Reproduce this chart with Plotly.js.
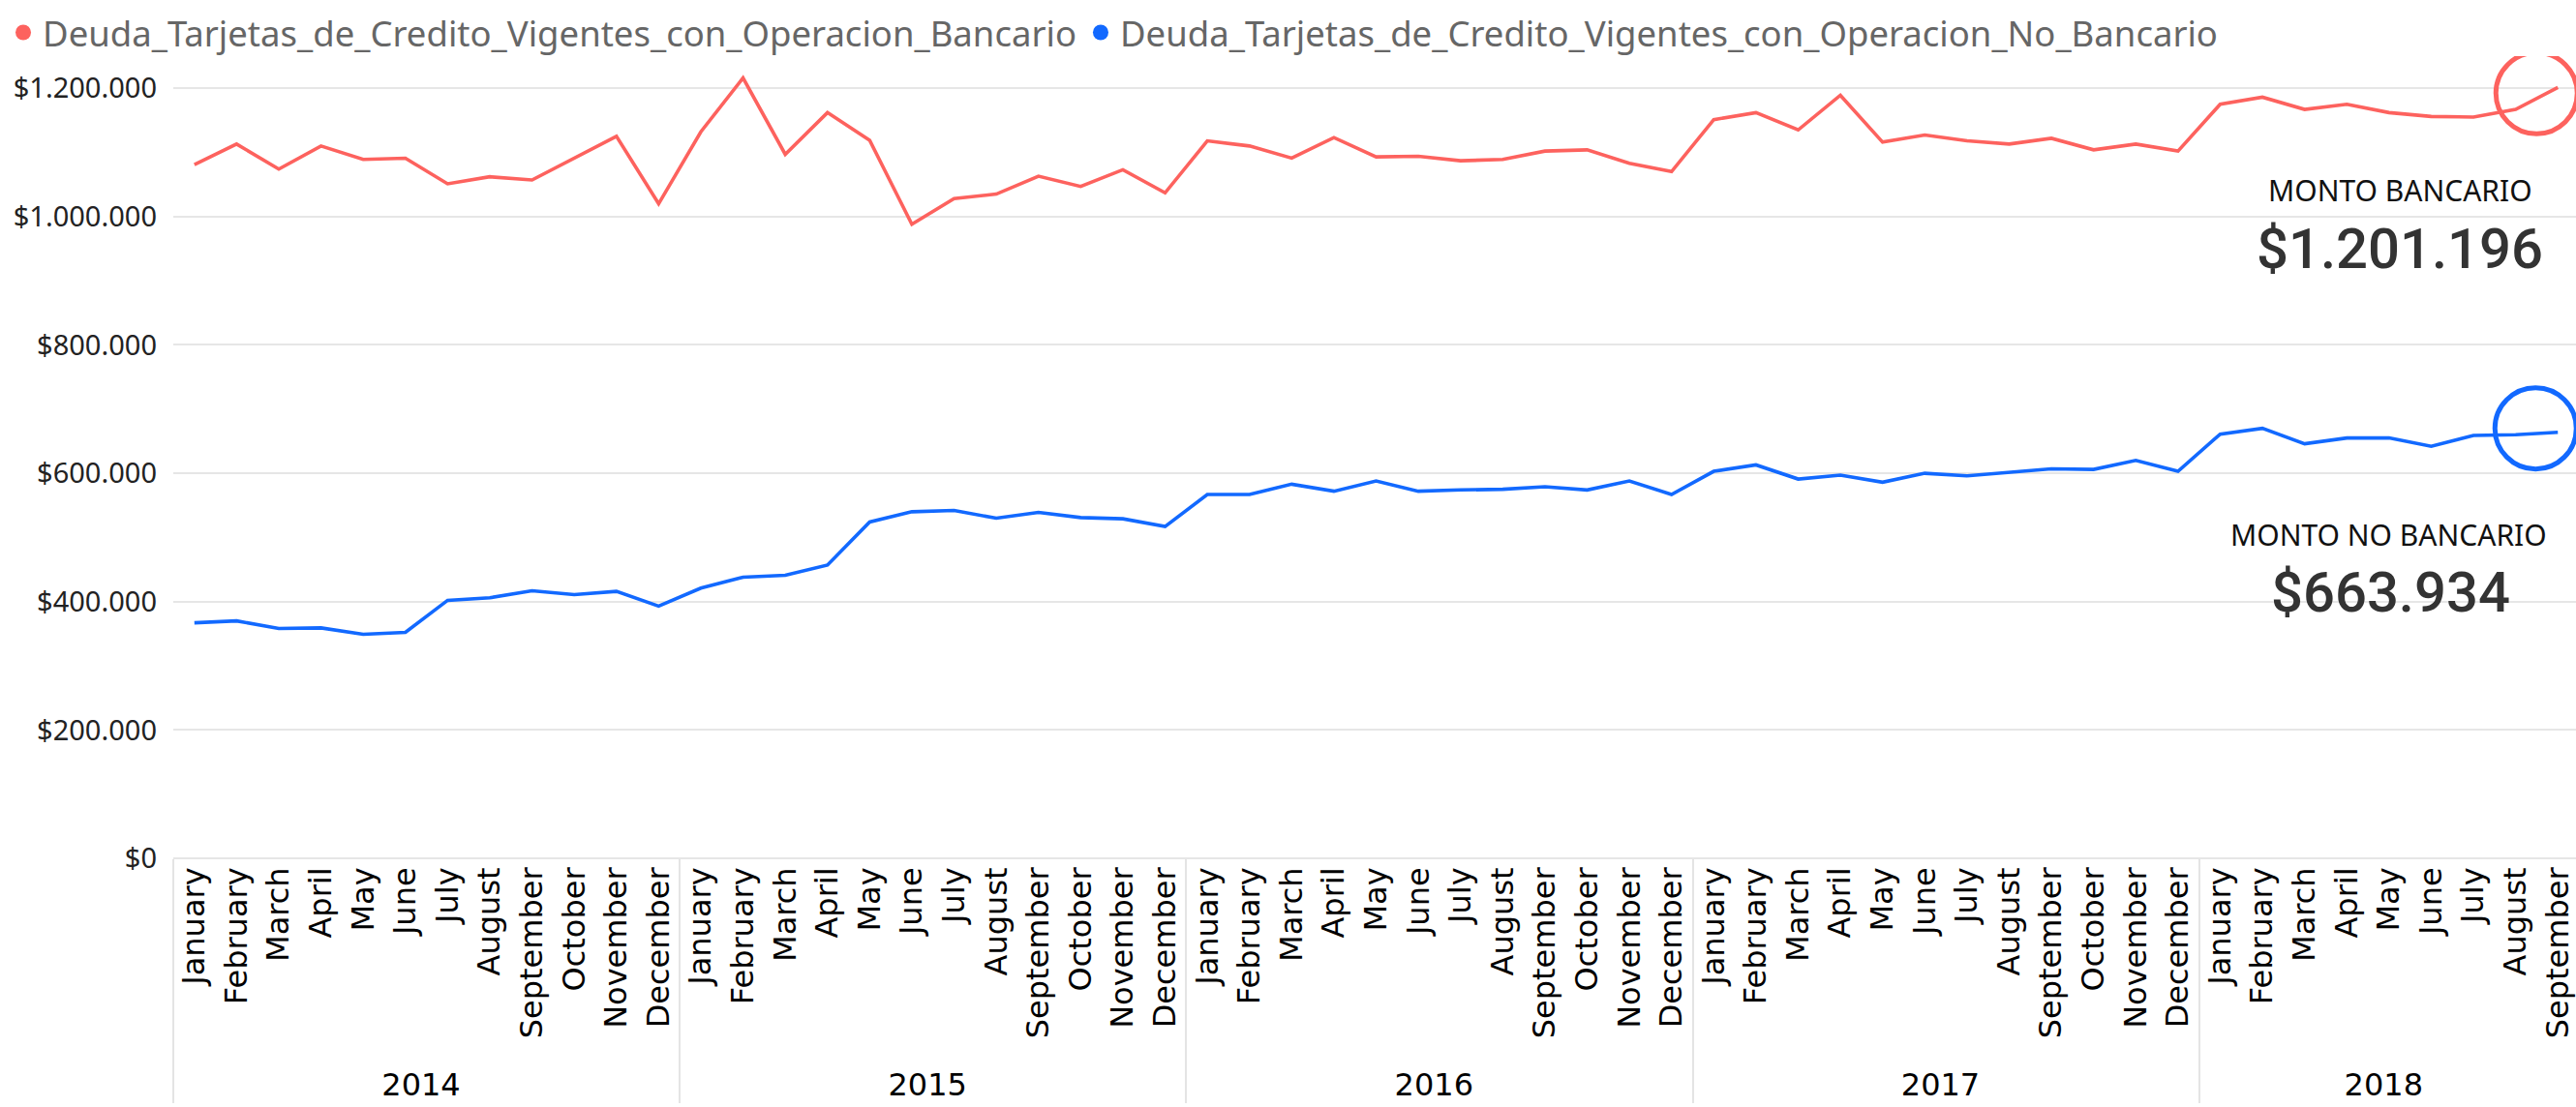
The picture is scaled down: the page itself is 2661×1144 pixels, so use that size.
<!DOCTYPE html>
<html>
<head>
<meta charset="utf-8">
<script src="https://cdn.plot.ly/plotly-3.0.1.min.js"></script>
<style>html,body{margin:0;padding:0;background:#fff;overflow:hidden}</style>
</head>
<body>
<div id="chart" style="width:2661px;height:1144px"></div>
<script>
// ---- data ----
const years = ['2014', '2015', '2016', '2017', '2018'];
const monthNames = ['January', 'February', 'March', 'April', 'May', 'June', 'July',
  'August', 'September', 'October', 'November', 'December'];

const seriesNames = [
  'Deuda_Tarjetas_de_Credito_Vigentes_con_Operacion_Bancario',
  'Deuda_Tarjetas_de_Credito_Vigentes_con_Operacion_No_Bancario'
];

const bancario = [
  1081000, 1113000, 1074000, 1110000, 1089000, 1091000, 1051000, 1062000, 1057000, 1091000, 1125000, 1020000,
  1132000, 1216000, 1097000, 1162000, 1119000, 988000, 1028000, 1035000, 1063000, 1047000, 1073000, 1037000,
  1118000, 1110000, 1091000, 1123000, 1093000, 1094000, 1087000, 1089000, 1102000, 1104000, 1083000, 1070000,
  1151000, 1162000, 1135000, 1189000, 1116000, 1127000, 1118000, 1113000, 1122000, 1104000, 1113000, 1102000,
  1175000, 1186000, 1167000, 1175000, 1162000, 1156000, 1155000, 1167000, 1201196
];

const noBancario = [
  367000, 370000, 358000, 359000, 349000, 352000, 402000, 406000, 417000, 411000, 416000, 393000,
  421000, 438000, 441000, 457000, 524000, 540000, 542000, 530000, 539000, 531000, 529000, 517000,
  567000, 567000, 583000, 572000, 588000, 572000, 574000, 575000, 579000, 574000, 588000, 567000,
  603000, 613000, 591000, 597000, 586000, 600000, 596000, 601000, 607000, 606000, 620000, 603000,
  661000, 670000, 646000, 655000, 655000, 642000, 659000, 660000, 663934
];

const yTicks = [0, 200000, 400000, 600000, 800000, 1000000, 1200000];
const cardLabels = ['MONTO BANCARIO', 'MONTO NO BANCARIO'];

// ---- styles ----
const RED = '#FD625E';
const BLUE = '#1269FF';

// category arrays built from years / months
const xYears = [], xMonths = [];
for (let i = 0; i < bancario.length; i++) {
  xYears.push(years[Math.floor(i / 12)]);
  xMonths.push(monthNames[i % 12]);
}

function fmt(v) {
  return '$' + String(Math.round(v)).replace(/\B(?=(\d{3})+(?!\d))/g, '.');
}

const xRange = [-0.5, 56.43];
const lastIdx = bancario.length - 1;
const lastPaperX = (lastIdx - xRange[0]) / (xRange[1] - xRange[0]);

const traces = [
  {
    x: [xYears, xMonths], y: bancario, type: 'scatter', mode: 'lines',
    line: {color: RED, width: 3.6}, name: seriesNames[0], showlegend: false, hoverinfo: 'skip'
  },
  {
    x: [xYears, xMonths], y: noBancario, type: 'scatter', mode: 'lines',
    line: {color: BLUE, width: 3.6}, name: seriesNames[1], showlegend: false, hoverinfo: 'skip'
  },
  {
    x: [null], y: [null], type: 'scatter', mode: 'markers', xaxis: 'x2', yaxis: 'y2',
    marker: {color: RED, size: 20, symbol: 'circle'}, name: seriesNames[0], showlegend: true
  },
  {
    x: [null], y: [null], type: 'scatter', mode: 'markers', xaxis: 'x2', yaxis: 'y2',
    marker: {color: BLUE, size: 20, symbol: 'circle'}, name: seriesNames[1], showlegend: true
  }
];

const layout = {
  width: 2661, height: 1144,
  margin: {l: 179, r: 0, t: 58, b: 257, pad: 0},
  paper_bgcolor: '#fff', plot_bgcolor: '#fff',
  separators: ',.',
  showlegend: true,
  legend: {
    orientation: 'h', x: -0.0705, xanchor: 'left', y: 1.066, yanchor: 'top',
    font: {family: 'Noto Sans', size: 36.5, color: '#666'},
    bgcolor: 'rgba(0,0,0,0)', borderwidth: 0
  },
  xaxis: {
    type: 'multicategory', range: xRange,
    tickangle: -90,
    tickfont: {family: 'DejaVu Sans', size: 32, color: '#000'},
    showgrid: false, zeroline: false, showline: false, ticks: '',
    showdividers: true, dividercolor: '#e4e4e4', dividerwidth: 2,
    ticklabelstandoff: 2,
    fixedrange: true
  },
  yaxis: {
    range: [0, 1250000], tickmode: 'array', tickvals: yTicks, ticktext: yTicks.map(fmt),
    tickfont: {family: 'Noto Sans', size: 29, color: '#222'},
    gridcolor: '#e6e6e6', gridwidth: 2,
    zeroline: true, zerolinecolor: '#e6e6e6', zerolinewidth: 2,
    showline: false, ticks: '', ticklabelstandoff: 16, fixedrange: true
  },
  xaxis2: {overlaying: 'x', visible: false, range: [0, 1]},
  yaxis2: {overlaying: 'y', visible: false, range: [0, 1]},
  shapes: [
    {
      type: 'circle', xref: 'paper', yref: 'y', xsizemode: 'pixel', ysizemode: 'pixel',
      xanchor: lastPaperX, yanchor: bancario[lastIdx],
      x0: -64, x1: 20, y0: -48, y1: 36,
      line: {color: RED, width: 5}, layer: 'above'
    },
    {
      type: 'circle', xref: 'paper', yref: 'y', xsizemode: 'pixel', ysizemode: 'pixel',
      xanchor: lastPaperX, yanchor: noBancario[lastIdx],
      x0: -65, x1: 19, y0: -38, y1: 46,
      line: {color: BLUE, width: 5}, layer: 'above'
    }
  ],
  annotations: [
    {
      text: cardLabels[0], xref: 'paper', yref: 'paper', x: 0.9267, y: 0.8335,
      xanchor: 'center', yanchor: 'middle', showarrow: false,
      font: {family: 'Noto Sans', size: 30, color: '#111'}
    },
    {
      text: fmt(bancario[lastIdx]), xref: 'paper', yref: 'paper', x: 0.9267, y: 0.760,
      xanchor: 'center', yanchor: 'middle', showarrow: false,
      font: {family: 'Roboto', size: 58, color: '#333', weight: 500}
    },
    {
      text: cardLabels[1], xref: 'paper', yref: 'paper', x: 0.9222, y: 0.4041,
      xanchor: 'center', yanchor: 'middle', showarrow: false,
      font: {family: 'Noto Sans', size: 30, color: '#111'}
    },
    {
      text: fmt(noBancario[lastIdx]), xref: 'paper', yref: 'paper', x: 0.9230, y: 0.3317,
      xanchor: 'center', yanchor: 'middle', showarrow: false,
      font: {family: 'Roboto', size: 58, color: '#333', weight: 500}
    }
  ]
};

Plotly.newPlot('chart', traces, layout, {displayModeBar: false, staticPlot: true});
</script>
</body>
</html>
